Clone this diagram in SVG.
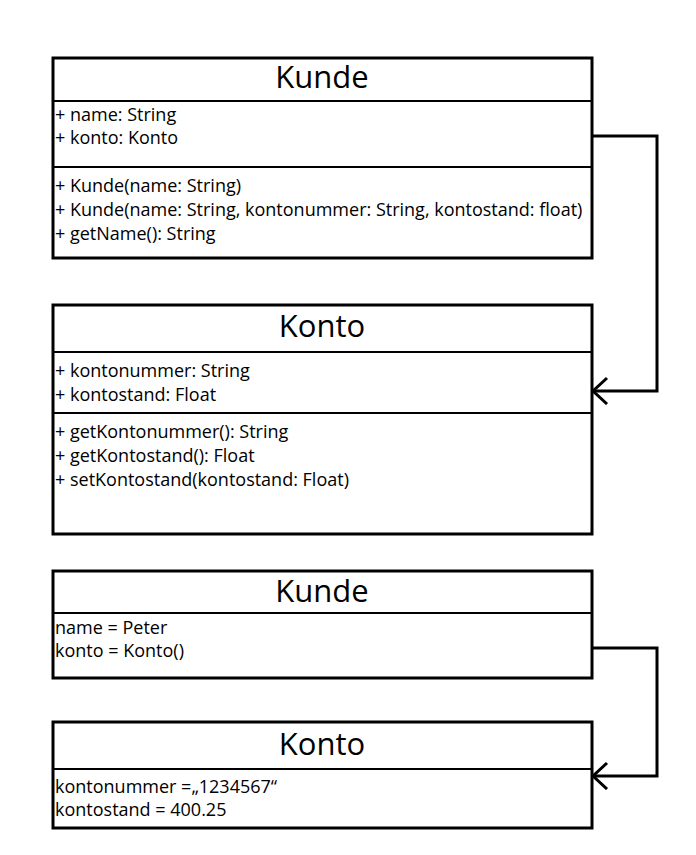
<svg xmlns="http://www.w3.org/2000/svg" width="696" height="855" viewBox="0 0 696 855">
<style>
.box{fill:#fff;stroke:#000;stroke-width:3}
.div{stroke:#000;stroke-width:2}
.title{font-family:"Open Sans","Liberation Sans",Arial,sans-serif;font-size:31px;text-anchor:middle;fill:#000}
.t{font-family:"Open Sans","Liberation Sans",Arial,sans-serif;font-size:18px;fill:#000}
.con{fill:none;stroke:#000;stroke-width:3}
</style>
<defs>
<marker id="arr" markerWidth="20" markerHeight="30" refX="16" refY="14" orient="auto" markerUnits="userSpaceOnUse">
<path d="M2,1 L16,14 L2,27" fill="none" stroke="#000" stroke-width="3"/>
</marker>
</defs>
<rect width="696" height="855" fill="#fff"/>
<g id="kunde-class">
<rect class="box" x="53" y="58" width="539" height="200"/>
<line class="div" x1="53" y1="101" x2="592" y2="101"/>
<line class="div" x1="53" y1="167" x2="592" y2="167"/>
<text class="title" x="322" y="88">Kunde</text>
<text class="t" x="55" y="121">+ name: String</text>
<text class="t" x="55" y="144">+ konto: Konto</text>
<text class="t" x="55" y="192">+ Kunde(name: String)</text>
<text class="t" x="55" y="216">+ Kunde(name: String, kontonummer: String, kontostand: float)</text>
<text class="t" x="55" y="240">+ getName(): String</text>
</g>
<g id="konto-class">
<rect class="box" x="53" y="305" width="539" height="229"/>
<line class="div" x1="53" y1="352" x2="592" y2="352"/>
<line class="div" x1="53" y1="413" x2="592" y2="413"/>
<text class="title" x="322" y="337">Konto</text>
<text class="t" x="55" y="377">+ kontonummer: String</text>
<text class="t" x="55" y="401">+ kontostand: Float</text>
<text class="t" x="55" y="438">+ getKontonummer(): String</text>
<text class="t" x="55" y="462">+ getKontostand(): Float</text>
<text class="t" x="55" y="486">+ setKontostand(kontostand: Float)</text>
</g>
<g id="kunde-object">
<rect class="box" x="53" y="571" width="539" height="107"/>
<line class="div" x1="53" y1="613" x2="592" y2="613"/>
<text class="title" x="322" y="602">Kunde</text>
<text class="t" x="55" y="634">name = Peter</text>
<text class="t" x="55" y="657">konto = Konto()</text>
</g>
<g id="konto-object">
<rect class="box" x="53" y="722" width="539" height="106"/>
<line class="div" x1="53" y1="769" x2="592" y2="769"/>
<text class="title" x="322" y="755">Konto</text>
<text class="t" x="55" y="793">kontonummer =„1234567“</text>
<text class="t" x="55" y="816">kontostand = 400.25</text>
</g>
<g id="connectors">
<path class="con" d="M592,136 H657 V391 H593" marker-end="url(#arr)"/>
<path class="con" d="M592,648 H657 V776 H593" marker-end="url(#arr)"/>
</g>
</svg>
